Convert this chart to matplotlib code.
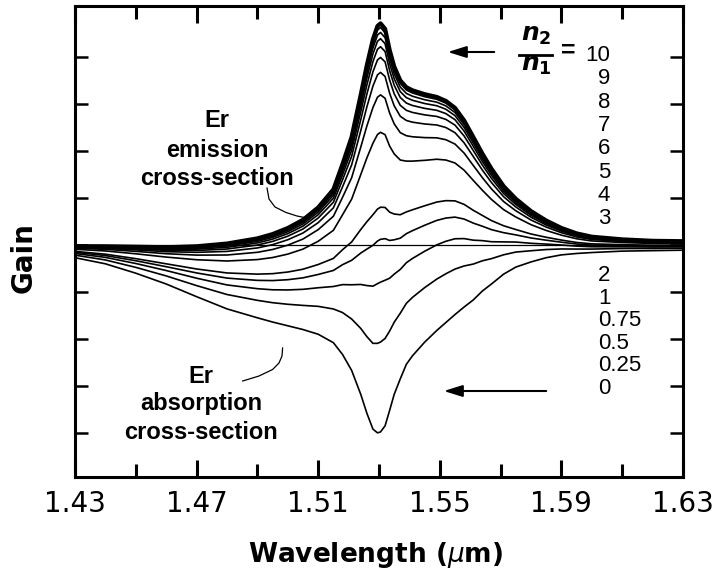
import matplotlib
matplotlib.use("Agg")
import matplotlib.pyplot as plt
import numpy as np

# cross-sections (arbitrary units, 1 unit = 1 y tick)
wavelength = [1.43, 1.44, 1.45, 1.46, 1.47, 1.48, 1.49, 1.495, 1.50, 1.505,
              1.51, 1.515, 1.518, 1.521, 1.524, 1.526, 1.528, 1.5295, 1.5305, 1.532,
              1.5335, 1.535, 1.537, 1.539, 1.541, 1.545, 1.549, 1.552, 1.555, 1.558,
              1.561, 1.564, 1.567, 1.571, 1.575, 1.58, 1.585, 1.59, 1.595, 1.60,
              1.61, 1.62, 1.63]
emission = [0.00, 0.01, 0.02, 0.03, 0.08, 0.17, 0.31, 0.42, 0.57, 0.77,
            1.07, 1.51, 2.13, 2.80, 3.84, 4.57, 5.21, 5.53, 5.59, 5.45,
            4.92, 4.50, 4.14, 3.95, 3.86, 3.74, 3.65, 3.54, 3.36, 3.05,
            2.65, 2.24, 1.87, 1.44, 1.13, 0.83, 0.60, 0.42, 0.29, 0.21,
            0.145, 0.11, 0.10]
absorption = [0.27, 0.40, 0.60, 0.83, 1.10, 1.36, 1.55, 1.64, 1.72, 1.80,
              1.90, 2.08, 2.33, 2.67, 3.18, 3.58, 3.92, 4.00, 3.98, 3.85,
              3.52, 3.18, 2.85, 2.54, 2.36, 2.07, 1.82, 1.65, 1.48, 1.32,
              1.17, 0.98, 0.83, 0.62, 0.47, 0.36, 0.27, 0.21, 0.18, 0.16,
              0.13, 0.12, 0.11]
ratios = [0, 0.25, 0.5, 0.75, 1, 2, 3, 4, 5, 6, 7, 8, 9, 10]
x_ticks = [1.43, 1.47, 1.51, 1.55, 1.59, 1.63]
x_minor = [1.45, 1.49, 1.53, 1.57, 1.61]

plt.rcParams['mathtext.fontset'] = 'custom'
plt.rcParams['mathtext.it'] = 'DejaVu Sans:italic:bold'
plt.rcParams['mathtext.rm'] = 'DejaVu Sans:bold'

lam = np.array(wavelength)
sig_e = np.array(emission)
sig_a = np.array(absorption)

W, H = 714, 578
fig = plt.figure(figsize=(W / 100, H / 100), dpi=100)
ax = fig.add_axes([75 / W, 1 - 477 / H, 608 / W, 471 / H])

# gain for each population ratio n2/n1
for r in ratios:
    gain = (r * sig_e - sig_a) / (1 + r)
    lw = 3.0 if r == max(ratios) else 1.2
    ax.plot(lam, gain, color='black', lw=lw, solid_joinstyle='round')
ax.axhline(0, color='black', lw=0.9)

ax.set_xlim(1.43, 1.63)
ax.set_ylim(-4.94, 5.09)
ax.set_xticks(x_ticks)
ax.set_xticklabels(["%.2f" % v for v in x_ticks])
ax.set_xticks(x_minor, minor=True)
ax.set_yticks(range(-4, 5))
ax.tick_params(axis='x', which='both', direction='in', top=True, labelsize=20,
               pad=9, width=2.2)
ax.tick_params(axis='x', which='major', length=12.5)
ax.tick_params(axis='x', which='minor', length=9.5)
ax.tick_params(axis='y', direction='in', right=True, length=9.5, width=1.8,
               labelleft=False)
for s in ax.spines.values():
    s.set_linewidth(2.2)

fig.text(376 / W, 1 - 555 / H, r'Wavelength ($\mu$m)', ha='center', va='center',
         fontsize=19, fontweight='bold', math_fontfamily='dejavusans')
fig.text(24 / W, 1 - 258 / H, 'Gain', ha='center', va='center', rotation=90,
         fontsize=20, fontweight='bold')

def af(px, py):
    return (px - 75) / 608, (477 - py) / 471

txt = dict(transform=ax.transAxes, ha='center', va='baseline', fontsize=17,
           fontweight='bold', family='Liberation Sans')
for s, py in zip(['Er', 'emission', 'cross-section'], [127, 157, 185]):
    ax.text(*af(217, py), s, **txt)
for s, py in zip(['Er', 'absorption', 'cross-section'], [383, 410, 439]):
    ax.text(*af(201, py), s, **txt)

lead_e = [af(*p) for p in [(267, 188), (269, 199), (275, 207), (286, 212.5), (297, 216), (307, 218)]]
lead_a = [af(*p) for p in [(282.6, 348), (282, 356), (279, 363), (272.6, 369.5), (259, 376), (242.7, 381)]]
for pts in (lead_e, lead_a):
    xs, ys = zip(*pts)
    ax.plot(xs, ys, color='black', lw=0.9, transform=ax.transAxes)

arrow = dict(arrowstyle='-|>,head_length=0.8,head_width=0.25', color='black',
             lw=1.5, mutation_scale=14)
ax.annotate('', xy=af(445, 52), xytext=af(497, 52), xycoords='axes fraction',
            textcoords='axes fraction', arrowprops=arrow)
ax.annotate('', xy=af(441, 391), xytext=af(549, 391), xycoords='axes fraction',
            textcoords='axes fraction', arrowprops=arrow)

# n2/n1 fraction
ax.text(*af(536, 41), r'$\mathit{n}_{\mathit{2}}$', transform=ax.transAxes,
        ha='center', va='baseline', fontsize=18, math_fontfamily='custom')
ax.text(*af(536, 71), r'$\mathit{n}_{\mathit{1}}$', transform=ax.transAxes,
        ha='center', va='baseline', fontsize=18, math_fontfamily='custom')
ax.plot([af(519, 55)[0], af(552, 55)[0]], [af(519, 55)[1]] * 2, color='black',
        lw=2, transform=ax.transAxes)
ax.text(*af(568, 51), '=', transform=ax.transAxes, ha='center', va='center',
        fontsize=18, fontweight='bold', family='Liberation Sans')

upper = [r for r in ratios if r >= 3][::-1]
lower = [r for r in ratios if r < 3][::-1]
for i, r in enumerate(upper):
    ax.text(*af(610, 61 + 23.3 * i), '%g' % r, transform=ax.transAxes,
            ha='right', va='baseline', fontsize=16, family='Liberation Sans')
for i, r in enumerate(lower):
    ax.text(*af(598, 281 + 22.6 * i), '%g' % r, transform=ax.transAxes,
            ha='left', va='baseline', fontsize=16, family='Liberation Sans')

fig.savefig('out.png', dpi=100)
